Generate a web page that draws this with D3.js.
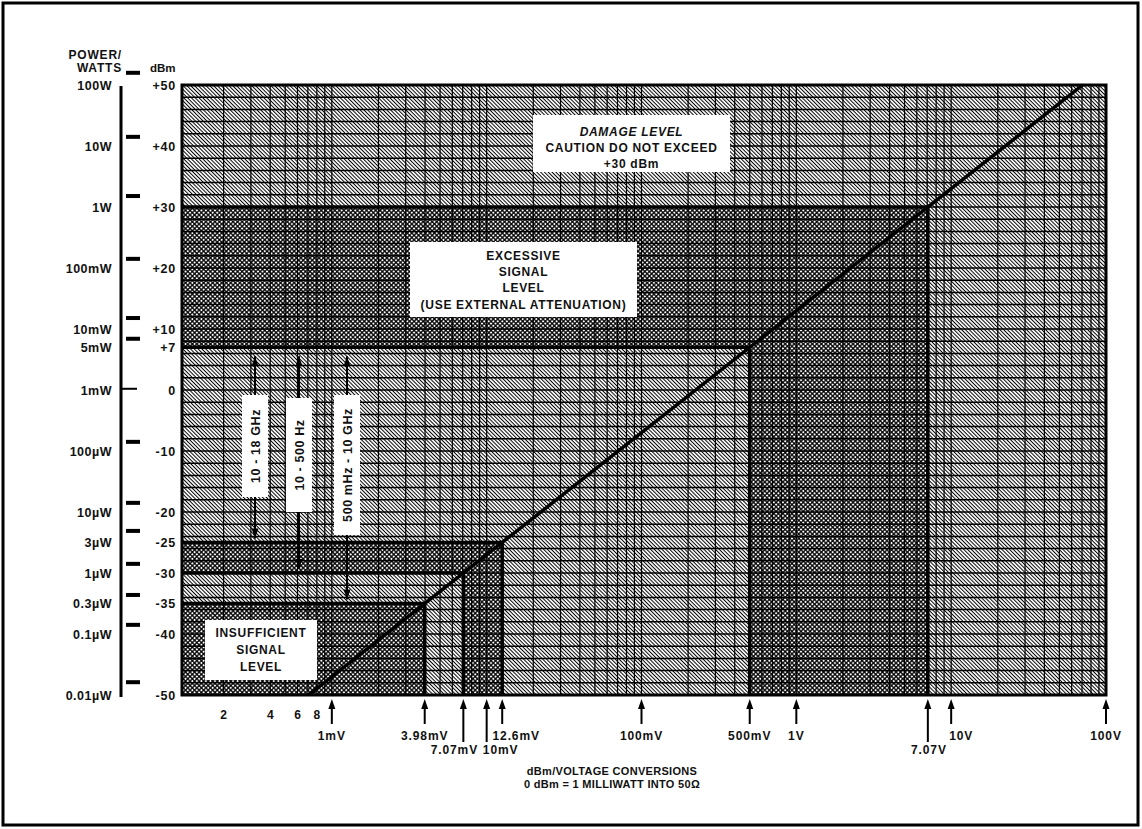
<!DOCTYPE html>
<html>
<head>
<meta charset="utf-8">
<script src="https://cdn.jsdelivr.net/npm/d3@7"></script>
<style>
  body { margin: 0; background: #fff; }
  text { font-family: "Liberation Sans", Arial, Helvetica, sans-serif; font-weight: bold; fill: #111; }
</style>
</head>
<body>
<svg id="chart"></svg>
<script>
// ===== data =====
const dbmTicks   = [50, 40, 30, 20, 10, 7, 0, -10, -20, -25, -30, -35, -40, -50];
const dbmLabels  = ["+50", "+40", "+30", "+20", "+10", "+7", "0", "-10", "-20", "-25", "-30", "-35", "-40", "-50"];
const wattLabels = ["100W", "10W", "1W", "100mW", "10mW", "5mW", "1mW", "100\u00b5W", "10\u00b5W", "3\u00b5W", "1\u00b5W", "0.3\u00b5W", "0.1\u00b5W", "0.01\u00b5W"];
// the printed tick bars on the watts scale sit a little off the labels
const wattTickDbm = [52, 41.5, 31.8, 21.5, 11.8, 8.4, 0.2, -8.5, -18.5, -23.1, -28.5, -33.6, -38.5, -47.9];

const voltMarks  = [1e-3, 3.98e-3, 7.07e-3, 10e-3, 12.6e-3, 0.1, 0.5, 1, 7.07, 10, 100];
const voltLabels = ["1mV", "3.98mV", "7.07mV", "10mV", "12.6mV", "100mV", "500mV", "1V", "7.07V", "10V", "100V"];
const subMarks   = [2e-4, 4e-4, 6e-4, 8e-4];
const subLabels  = ["2", "4", "6", "8"];

// dBm <-> voltage line (50 ohm)
const lineVolts = [0.708e-3, 70.7];
const lineDbm   = [-50, 50];

// limits: dBm and the matching voltage
const thresholdDbm   = [-35, -30, -25, 7, 30];
const thresholdVolts = [3.98e-3, 7.07e-3, 12.6e-3, 0.5, 7.07];

// cross-hatched bands (low dBm, high dBm)
const bandLow  = [-50, -30, 7];
const bandHigh = [-35, -25, 30];

const freqLabels = ["10 - 18 GHz", "10 - 500 Hz", "500 mHz - 10 GHz"];
const freqMinDbm = [-25, -30, -35];
const freqTopDbm = 7;

// ===== layout =====
const W = 1142, H = 829;
const plot = { left: 182, right: 1106, top: 85, bottom: 695 };

const svg = d3.select("#chart").attr("width", W).attr("height", H);

const x = d3.scaleLog().domain([1e-4, 100]).range([177, 1106]);
const y = d3.scaleLinear().domain([-50, 50]).range([695, 85]);

function voltAt(dbm) {
	if (dbm === lineDbm[0]) return lineVolts[0];
	if (dbm === lineDbm[1]) return lineVolts[1];
	return thresholdVolts[thresholdDbm.indexOf(dbm)];
}

// patterns
const defs = svg.append("defs");
const hatch = defs.append("pattern")
	.attr("id", "hatch")
	.attr("patternUnits", "userSpaceOnUse")
	.attr("width", 2.7).attr("height", 2.7)
	.attr("patternTransform", "rotate(-45)");
hatch.append("rect").attr("width", 2.7).attr("height", 2.7).attr("fill", "#fff");
hatch.append("line").attr("x1", 1.35).attr("x2", 1.35).attr("y1", 0).attr("y2", 2.7)
	.attr("stroke", "#000").attr("stroke-width", 1.0);

const cross = defs.append("pattern")
	.attr("id", "cross")
	.attr("patternUnits", "userSpaceOnUse")
	.attr("width", 3.2).attr("height", 3.2)
	.attr("patternTransform", "rotate(45)");
cross.append("rect").attr("width", 3.2).attr("height", 3.2).attr("fill", "#fff");
cross.append("line").attr("x1", 1.6).attr("x2", 1.6).attr("y1", 0).attr("y2", 3.2)
	.attr("stroke", "#000").attr("stroke-width", 1.3);
cross.append("line").attr("y1", 1.6).attr("y2", 1.6).attr("x1", 0).attr("x2", 3.2)
	.attr("stroke", "#000").attr("stroke-width", 1.3);

defs.append("clipPath").attr("id", "plotClip")
	.append("rect")
	.attr("x", plot.left).attr("y", plot.top)
	.attr("width", plot.right - plot.left).attr("height", plot.bottom - plot.top);

// outer frame
svg.append("rect")
	.attr("x", 3).attr("y", 3).attr("width", 1135).attr("height", 822)
	.attr("fill", "none").attr("stroke", "#000").attr("stroke-width", 3);

const g = svg.append("g").attr("clip-path", "url(#plotClip)");

// background hatch
g.append("rect")
	.attr("x", plot.left).attr("y", plot.top)
	.attr("width", plot.right - plot.left).attr("height", plot.bottom - plot.top)
	.attr("fill", "url(#hatch)");

// cross-hatched regions: horizontal band + vertical band under the line
bandLow.forEach((lo, i) => {
	const hi = bandHigh[i];
	g.append("rect")
		.attr("x", plot.left).attr("y", y(hi))
		.attr("width", x(voltAt(hi)) - plot.left).attr("height", y(lo) - y(hi))
		.attr("fill", "url(#cross)");
	g.append("rect")
		.attr("x", x(voltAt(lo))).attr("y", y(hi))
		.attr("width", x(voltAt(hi)) - x(voltAt(lo))).attr("height", plot.bottom - y(hi))
		.attr("fill", "url(#cross)");
});

// grid
g.selectAll(".vgrid")
	.data(x.ticks())
	.enter().append("line")
	.attr("class", "vgrid")
	.attr("x1", d => x(d)).attr("x2", d => x(d))
	.attr("y1", plot.top).attr("y2", plot.bottom)
	.attr("stroke", "#000").attr("stroke-width", 1.2);

g.selectAll(".hgrid")
	.data(y.ticks(50))
	.enter().append("line")
	.attr("class", "hgrid")
	.attr("x1", plot.left).attr("x2", plot.right)
	.attr("y1", d => y(d)).attr("y2", d => y(d))
	.attr("stroke", "#000").attr("stroke-width", 1.5);

// heavy limit lines (L shape to the conversion line)
thresholdDbm.forEach((db, i) => {
	const vx = x(thresholdVolts[i]);
	g.append("path")
		.attr("d", `M${plot.left},${y(db)}H${vx}V${plot.bottom}`)
		.attr("fill", "none").attr("stroke", "#000").attr("stroke-width", 3.5);
});

// conversion line
g.append("line")
	.attr("x1", x(lineVolts[0])).attr("y1", y(lineDbm[0]))
	.attr("x2", x(lineVolts[1])).attr("y2", y(lineDbm[1]))
	.attr("stroke", "#000").attr("stroke-width", 3.5);

// ===== white label boxes =====
function textBox(x0, y0, x1, y1, lines, ys, italicFirst) {
	svg.append("rect")
		.attr("x", x0).attr("y", y0).attr("width", x1 - x0).attr("height", y1 - y0)
		.attr("fill", "#fff");
	lines.forEach((t, i) => {
		svg.append("text")
			.attr("x", (x0 + x1) / 2).attr("y", ys[i])
			.attr("text-anchor", "middle").attr("dominant-baseline", "central")
			.style("font-size", "12px").style("letter-spacing", "0.7px")
			.style("font-style", italicFirst && i === 0 ? "italic" : "normal")
			.text(t);
	});
}

textBox(533, 115, 730, 172, ["DAMAGE LEVEL", "CAUTION DO NOT EXCEED", "+30 dBm"], [132, 148, 164], true);
textBox(410, 242, 637, 317, ["EXCESSIVE", "SIGNAL", "LEVEL", "(USE EXTERNAL ATTENUATION)"], [256, 272, 288, 305], false);
textBox(205, 620, 317, 680, ["INSUFFICIENT", "SIGNAL", "LEVEL"], [633, 650, 667], false);

// ===== frequency range arrows =====
function arrowHead(px, py, up) {
	const s = up ? 1 : -1;
	svg.append("path")
		.attr("d", `M${px},${py}L${px - 3.5},${py + s * 10}L${px + 3.5},${py + s * 10}Z`)
		.attr("fill", "#000");
}

const freqX = [255, 299, 347];
const freqBox = [[395, 497], [398, 512], [395, 535]];
freqLabels.forEach((lab, i) => {
	const fx = freqX[i];
	const top = y(freqTopDbm) + 9, bot = y(freqMinDbm[i]) - 4;
	svg.append("line").attr("x1", fx).attr("x2", fx).attr("y1", top).attr("y2", bot)
		.attr("stroke", "#000").attr("stroke-width", 2);
	arrowHead(fx, top, true);
	arrowHead(fx, bot, false);
	const b = freqBox[i];
	svg.append("rect")
		.attr("x", fx - 13).attr("y", b[0]).attr("width", 26).attr("height", b[1] - b[0])
		.attr("fill", "#fff");
	svg.append("text")
		.attr("transform", `translate(${fx + 1},${(b[0] + b[1]) / 2}) rotate(-90)`)
		.attr("text-anchor", "middle").attr("dominant-baseline", "central")
		.style("font-size", "12.5px").style("letter-spacing", "0.6px")
		.text(lab);
});

// plot border
svg.append("rect")
	.attr("x", plot.left).attr("y", plot.top)
	.attr("width", plot.right - plot.left).attr("height", plot.bottom - plot.top)
	.attr("fill", "none").attr("stroke", "#000").attr("stroke-width", 3);

// ===== dBm axis =====
const dbmAxis = svg.append("g")
	.attr("transform", `translate(176,0)`)
	.call(d3.axisLeft(y).tickValues(dbmTicks).tickSize(0).tickPadding(0)
		.tickFormat((d, i) => dbmLabels[i]));
dbmAxis.select(".domain").remove();
dbmAxis.attr("font-family", null).attr("font-size", null);
dbmAxis.selectAll("text")
	.style("font-size", "12.5px").style("letter-spacing", "0.8px");

// ===== watts axis =====
const wAxis = svg.append("g")
	.attr("transform", `translate(112,0)`)
	.call(d3.axisLeft(y).tickValues(dbmTicks).tickSize(0).tickPadding(0)
		.tickFormat((d, i) => wattLabels[i]));
wAxis.select(".domain").remove();
wAxis.attr("font-family", null).attr("font-size", null);
wAxis.selectAll("text")
	.style("font-size", "12.5px").style("letter-spacing", "0.5px");

svg.append("line")
	.attr("x1", 121).attr("x2", 121).attr("y1", 86).attr("y2", 697)
	.attr("stroke", "#000").attr("stroke-width", 3);

svg.selectAll(".wtick")
	.data(wattTickDbm)
	.enter().append("rect")
	.attr("class", "wtick")
	.attr("x", d => Math.abs(d) < 1 ? 121 : 126)
	.attr("y", d => y(d) - (Math.abs(d) < 1 ? 1 : 2))
	.attr("width", d => Math.abs(d) < 1 ? 16 : 14)
	.attr("height", d => Math.abs(d) < 1 ? 2 : 4)
	.attr("fill", "#000");

svg.append("text").attr("x", 122).attr("y", 55).attr("text-anchor", "end")
	.attr("dominant-baseline", "central").style("font-size", "12px").style("letter-spacing", "0.8px")
	.text("POWER/");
svg.append("text").attr("x", 122).attr("y", 68).attr("text-anchor", "end")
	.attr("dominant-baseline", "central").style("font-size", "12px").style("letter-spacing", "0.8px")
	.text("WATTS");
svg.append("text").attr("x", 150).attr("y", 68)
	.attr("dominant-baseline", "central").style("font-size", "11.5px")
	.text("dBm");

// ===== voltage marks under the plot =====
const labelPlace = {
	"7.07mV": { row: 2, dx: -9 },
	"10mV":   { row: 2, dx: 14 },
	"12.6mV": { row: 1, dx: 14 },
	"7.07V":  { row: 2, dx: 1 },
	"10V":    { row: 1, dx: 10 }
};

voltMarks.forEach((v, i) => {
	const vx = x(v);
	const p = labelPlace[voltLabels[i]] || { row: 1, dx: 0 };
	const tip = plot.bottom + 4;
	const end = p.row === 2 ? 742 : 724;
	svg.append("line").attr("x1", vx).attr("x2", vx).attr("y1", tip + 6).attr("y2", end)
		.attr("stroke", "#000").attr("stroke-width", 2);
	arrowHead(vx, tip, true);
	svg.append("text")
		.attr("x", vx + p.dx).attr("y", p.row === 2 ? 750 : 736)
		.attr("text-anchor", "middle").attr("dominant-baseline", "central")
		.style("font-size", "12px").style("letter-spacing", "0.9px")
		.text(voltLabels[i]);
});

svg.selectAll(".sub")
	.data(subMarks)
	.enter().append("text")
	.attr("class", "sub")
	.attr("x", d => x(d)).attr("y", 715)
	.attr("text-anchor", "middle").attr("dominant-baseline", "central")
	.style("font-size", "12px")
	.text((d, i) => subLabels[i]);

// caption
svg.append("text").attr("x", 612).attr("y", 771)
	.attr("text-anchor", "middle").attr("dominant-baseline", "central")
	.style("font-size", "11px").style("letter-spacing", "0.3px")
	.text("dBm/VOLTAGE CONVERSIONS");
svg.append("text").attr("x", 612).attr("y", 784)
	.attr("text-anchor", "middle").attr("dominant-baseline", "central")
	.style("font-size", "11px").style("letter-spacing", "0.3px")
	.text("0 dBm = 1 MILLIWATT INTO 50\u03a9");
</script>
</body>
</html>
